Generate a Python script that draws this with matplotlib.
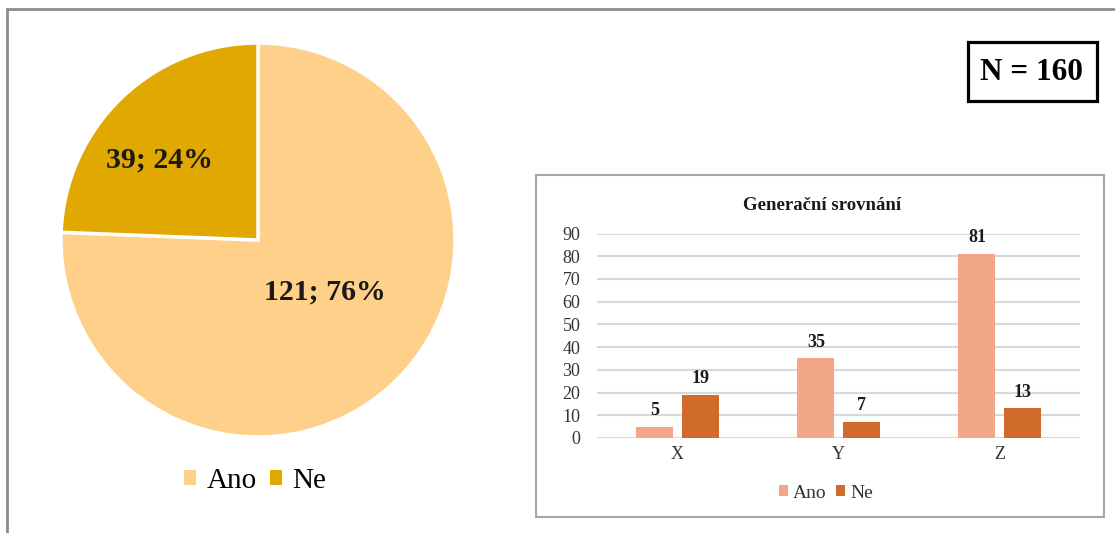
import matplotlib
matplotlib.use("Agg")
import matplotlib.pyplot as plt
from matplotlib.patches import Rectangle, Patch
import numpy as np

# Overall answers
answer_labels = ["Ano", "Ne"]
answer_counts = [121, 39]
total_n = 160

# Answers by generation
generations = ["X", "Y", "Z"]
gen_ano = [5, 35, 81]
gen_ne = [19, 7, 13]

pie_colors = ["#FFD08A", "#E0A800"]
bar_colors = ["#F1A788", "#D16B2C"]

plt.rcParams["font.family"] = ["Liberation Serif", "DejaVu Serif"]

W, H = 1115, 533
fig = plt.figure(figsize=(W / 100, H / 100), dpi=100)


def fx(px):
    return px / W


def fy(py):
    return 1 - py / H


# outer frame (left and top edges visible)
fig.patches.append(Rectangle((fx(7), -0.05), 1.1, fy(9) + 0.05, transform=fig.transFigure,
                             fill=False, edgecolor="#8c8c8c", linewidth=2))

# ---- pie ----
cx, cy, r = 258, 240, 197
ax_pie = fig.add_axes([fx(cx - r), fy(cy + r), 2 * r / W, 2 * r / H])
wedges, _ = ax_pie.pie(answer_counts, colors=pie_colors, startangle=90, counterclock=False,
                       wedgeprops=dict(edgecolor="white", linewidth=2.5), radius=1)
ax_pie.set_xlim(-1, 1)
ax_pie.set_ylim(-1, 1)
ax_pie.set_aspect("equal")

pcts = [round(100 * c / total_n) for c in answer_counts]
label_pos = [(0.34, -0.265), (-0.50, 0.405)]
for (lx, ly), c, p in zip(label_pos, answer_counts, pcts):
    ax_pie.text(lx, ly, f"{c}; {p}%", ha="center", va="center",
                fontsize=21.5, fontweight="bold", color="#1a1a1a")

fig.legend([Patch(facecolor=c) for c in pie_colors], answer_labels,
           loc="center", bbox_to_anchor=(fx(255), fy(481)), ncol=2, frameon=False,
           fontsize=21, handlelength=0.42, handleheight=0.42,
           handletextpad=0.35, columnspacing=0.45)

# ---- N box ----
fig.patches.append(Rectangle((fx(968), fy(101)), 129 / W, 59 / H, transform=fig.transFigure,
                             facecolor="white", edgecolor="black", linewidth=2.3))
fig.text(fx(1032), fy(72), f"N = {total_n}", ha="center", va="center",
         fontsize=22.5, fontweight="bold")

# ---- bar chart frame ----
fig.patches.append(Rectangle((fx(536), fy(517)), (1104 - 536) / W, (517 - 175) / H,
                             transform=fig.transFigure, fill=False,
                             edgecolor="#a6a6a6", linewidth=1.5))

ax = fig.add_axes([fx(597), fy(438), (1080 - 597) / W, (438 - 233.5) / H])
x = np.arange(len(generations))
bw = 0.23
off = 0.14
b1 = ax.bar(x - off, gen_ano, bw, color=bar_colors[0], zorder=3)
b2 = ax.bar(x + off, gen_ne, bw, color=bar_colors[1], zorder=3)
for bars, vals in ((b1, gen_ano), (b2, gen_ne)):
    for rect, v in zip(bars, vals):
        ax.text(rect.get_x() + rect.get_width() / 2, v + 3.5, str(v), ha="center", va="bottom",
                fontsize=13, fontweight="bold", color="#1a1a1a")

ax.set_xlim(-0.5, 2.5)
ax.set_ylim(0, 90)
ax.set_yticks(range(0, 91, 10))
ax.set_xticks(x)
ax.set_xticklabels(generations)
ax.tick_params(axis="both", length=0, labelsize=13, colors="#333333")
ax.tick_params(axis="y", pad=12)
ax.tick_params(axis="x", pad=6)
ax.grid(axis="y", color="#d9d9d9", linewidth=1.5, zorder=0)
for s in ax.spines.values():
    s.set_visible(False)
ax.set_facecolor("none")

fig.text(fx(822), fy(206), "Generační srovnání", ha="center", va="center",
         fontsize=13.5, fontweight="bold", color="#1a1a1a")

fig.legend([Patch(facecolor=c) for c in bar_colors], answer_labels,
           loc="center", bbox_to_anchor=(fx(826), fy(493)), ncol=2, frameon=False,
           fontsize=14, handlelength=0.45, handleheight=0.45,
           handletextpad=0.25, columnspacing=0.5, labelcolor="#333333")

fig.savefig("out.png", dpi=100, facecolor="white")
